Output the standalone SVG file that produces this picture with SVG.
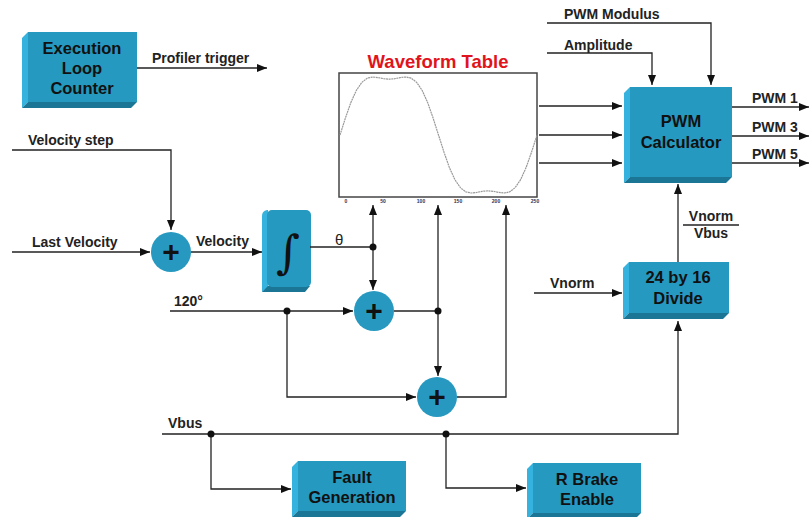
<svg xmlns="http://www.w3.org/2000/svg" width="809" height="517" viewBox="0 0 809 517">
<style>
.face{fill:#2599C0}
.lt{fill:#36B2DE}
.dk{fill:#1B7594}
.bt{font-family:"Liberation Sans",Arial,sans-serif;font-weight:bold;font-size:16.5px;fill:#111;text-anchor:middle}
.lb{font-family:"Liberation Sans",Arial,sans-serif;font-weight:bold;font-size:14px;fill:#222}
.ln{stroke:#222;stroke-width:1.3;fill:none}
.arr{stroke:#222;stroke-width:1.3;fill:none;marker-end:url(#ah)}
.dot{fill:#111}
.sum{fill:#2799C1}
.plus{font-family:"Liberation Sans",Arial,sans-serif;font-weight:bold;font-size:30px;fill:#111;text-anchor:middle}
.tick{font-family:"Liberation Sans",Arial,sans-serif;font-weight:bold;font-size:5px;fill:#335;text-anchor:middle}
</style>
<defs>
<marker id="ah" viewBox="0 0 10 8" refX="10" refY="4" markerWidth="10" markerHeight="8" markerUnits="userSpaceOnUse" orient="auto">
<path d="M0,0 L10,4 L0,8 Z" fill="#111"/>
</marker>
</defs>
<rect width="809" height="517" fill="#fff"/>

<g id="exec-loop-counter">
<polygon class="lt" points="22,38 28,32 28,102 22,108"/>
<polygon class="dk" points="22,108 28,102 137,102 131,108"/>
<rect class="face" x="28" y="32" width="109" height="70"/>
<text class="bt" x="82" y="54">Execution</text>
<text class="bt" x="82" y="74">Loop</text>
<text class="bt" x="82" y="94">Counter</text>
</g>

<g id="waveform-table">
<text x="438" y="68" font-family="'Liberation Sans',Arial,sans-serif" font-weight="bold" font-size="18.5" fill="#E0141C" text-anchor="middle">Waveform Table</text>
<rect x="339" y="73" width="198" height="124" fill="#fff" stroke="#444" stroke-width="1.5"/>
<polyline fill="none" stroke="#999" stroke-width="1.2" stroke-dasharray="2 0.6" points="340,135 345.5,117.8 350.9,102.4 356.4,90.3 361.9,82.3 367.4,78.1 372.8,77 378.3,77.6 383.8,78.7 389.3,79.2 394.7,78.7 400.2,77.6 405.7,77 411.1,78.1 416.6,82.3 422.1,90.3 427.6,102.4 433,117.8 438.5,135 444,152.2 449.4,167.6 454.9,179.7 460.4,187.7 465.9,191.9 471.3,193 476.8,192.4 482.3,191.3 487.8,190.8 493.2,191.3 498.7,192.4 504.2,193 509.6,191.9 515.1,187.7 520.6,179.7 526.1,167.6 531.5,152.2 537,135"/>
<text class="tick" x="346" y="203">0</text>
<text class="tick" x="383" y="203">50</text>
<text class="tick" x="421" y="203">100</text>
<text class="tick" x="458" y="203">150</text>
<text class="tick" x="496" y="203">200</text>
<text class="tick" x="535" y="203">250</text>
</g>

<g id="pwm-calculator">
<polygon class="lt" points="624,93 630,87 630,177 624,183"/>
<polygon class="dk" points="624,183 630,177 732,177 726,183"/>
<rect class="face" x="630" y="87" width="102" height="90"/>
<text class="bt" x="681" y="127">PWM</text>
<text class="bt" x="681" y="148">Calculator</text>
</g>

<g id="divide">
<polygon class="lt" points="623,268 629,262 629,313 623,319"/>
<polygon class="dk" points="623,319 629,313 729,313 723,319"/>
<rect class="face" x="629" y="262" width="100" height="51"/>
<text class="bt" x="678" y="283">24 by 16</text>
<text class="bt" x="678" y="304">Divide</text>
</g>

<g id="integrator">
<path class="lt" d="M262,216 Q262,211 267,210 L268,210 L268,287 L262,292 Z"/>
<path class="dk" d="M262,292 L268,286 L310,286 L305,292 Z"/>
<rect class="face" x="267" y="210" width="44" height="77" rx="5"/>
<text x="288" y="268" font-family="'DejaVu Serif',serif" font-size="46" fill="#111" text-anchor="middle">∫</text>
</g>

<g id="sum1">
<circle class="sum" cx="171" cy="252" r="20"/>
<text class="plus" x="171" y="262">+</text>
</g>
<g id="sum2">
<circle class="sum" cx="374" cy="311" r="20"/>
<text class="plus" x="374" y="321">+</text>
</g>
<g id="sum3">
<circle class="sum" cx="437" cy="397" r="20"/>
<text class="plus" x="437" y="407">+</text>
</g>

<g id="fault-generation">
<polygon class="lt" points="292,467 298,461 298,511 292,517"/>
<polygon class="dk" points="292,517 298,511 406,511 400,517"/>
<rect class="face" x="298" y="461" width="108" height="50"/>
<text class="bt" x="352" y="483">Fault</text>
<text class="bt" x="352" y="503">Generation</text>
</g>

<g id="r-brake-enable">
<polygon class="lt" points="527,469 533,463 533,513 527,519"/>
<polygon class="dk" points="527,519 533,513 641,513 635,519"/>
<rect class="face" x="533" y="463" width="108" height="50"/>
<text class="bt" x="587" y="485">R Brake</text>
<text class="bt" x="587" y="505">Enable</text>
</g>

<g id="connectors">
<path class="arr" d="M137,68 H267"/>
<path class="arr" d="M12,150 H171 V230"/>
<path class="arr" d="M12,252 H150"/>
<path class="arr" d="M191,252 H262"/>
<path class="ln" d="M310,247 H373"/>
<path class="arr" d="M373,247 V205"/>
<path class="arr" d="M373,247 V290"/>
<path class="arr" d="M170,311 H353"/>
<path class="arr" d="M287,311 V397 H416"/>
<path class="ln" d="M394,311 H438"/>
<path class="arr" d="M438,311 V205"/>
<path class="arr" d="M438,311 V376"/>
<path class="arr" d="M457,397 H506 V205"/>
<path class="arr" d="M539,106 H622"/>
<path class="arr" d="M539,135 H622"/>
<path class="arr" d="M539,163 H622"/>
<path class="arr" d="M547,23 H711 V85"/>
<path class="arr" d="M547,53 H652 V85"/>
<path class="arr" d="M732,107 H809"/>
<path class="arr" d="M732,136 H809"/>
<path class="arr" d="M732,163 H809"/>
<path class="arr" d="M534,293 H622"/>
<path class="arr" d="M678,262 V184"/>
<path class="arr" d="M162,434 H678 V321"/>
<path class="arr" d="M211,434 V489 H291"/>
<path class="arr" d="M446,434 V488 H526"/>
<circle class="dot" cx="373" cy="247" r="3.5"/>
<circle class="dot" cx="287" cy="311" r="3.5"/>
<circle class="dot" cx="438" cy="311" r="3.5"/>
<circle class="dot" cx="211" cy="434" r="3.5"/>
<circle class="dot" cx="446" cy="434" r="3.5"/>
<line x1="683" y1="225" x2="739" y2="225" stroke="#222" stroke-width="1.3"/>
</g>

<g id="labels">
<text class="lb" x="152" y="63">Profiler trigger</text>
<text class="lb" x="28" y="145">Velocity step</text>
<text class="lb" x="32" y="247">Last Velocity</text>
<text class="lb" x="196" y="246">Velocity</text>
<text x="335" y="245" font-family="'Liberation Sans',Arial,sans-serif" font-size="15" fill="#222">θ</text>
<text class="lb" x="174" y="306">120°</text>
<text class="lb" x="564" y="19">PWM Modulus</text>
<text class="lb" x="564" y="50">Amplitude</text>
<text class="lb" x="752" y="103">PWM 1</text>
<text class="lb" x="752" y="132">PWM 3</text>
<text class="lb" x="752" y="159">PWM 5</text>
<text class="lb" x="550" y="288">Vnorm</text>
<text class="lb" x="711" y="221" text-anchor="middle">Vnorm</text>
<text class="lb" x="711" y="238" text-anchor="middle">Vbus</text>
<text class="lb" x="168" y="428">Vbus</text>
</g>
</svg>
